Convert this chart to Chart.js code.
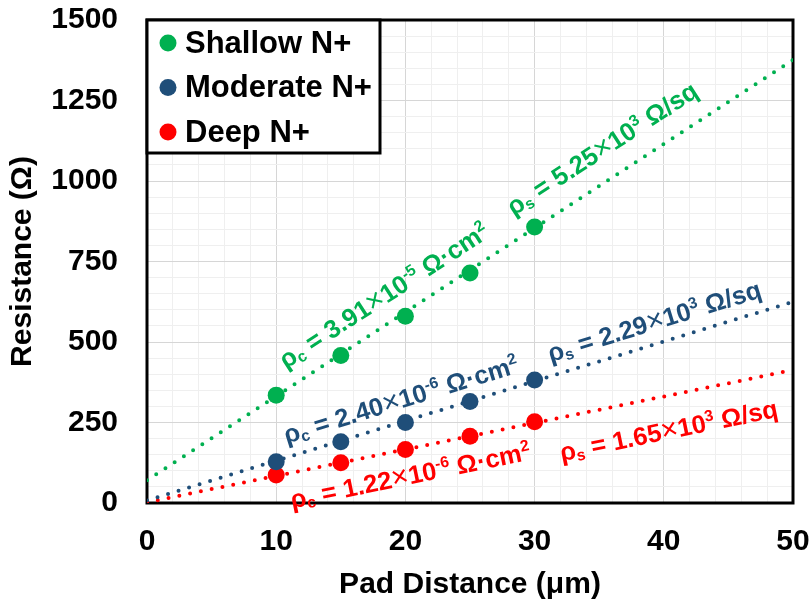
<!DOCTYPE html>
<html>
<head>
<meta charset="utf-8">
<script src="https://cdn.jsdelivr.net/npm/chart.js@4/dist/chart.umd.min.js"></script>
<style>
  html, body { margin: 0; padding: 0; background: #fff; }
</style>
</head>
<body>
<canvas id="chart" width="811" height="603"></canvas>
<script>
// valores medidos
const padDistance = [10, 15, 20, 25, 30];
const shallowR = [335, 458, 580, 714, 857];
const moderateR = [128, 190, 250, 315, 382];
const deepR = [87, 125, 166, 207, 252];

// rectas de ajuste (extremos)
const fitX = [0, 50];
const shallowFit = [71, 1376];
const moderateFit = [8, 625];
const deepFit = [2, 413];

const seriesNames = ["Shallow N+", "Moderate N+", "Deep N+"];
const seriesColors = ["#00b050", "#1f4e79", "#ff0000"];
const rhoC = ["3.91", "2.40", "1.22"];
const rhoCExp = ["-5", "-6", "-6"];
const rhoS = ["5.25", "2.29", "1.65"];

const xTickLabels = [0, 10, 20, 30, 40, 50];
const yTickLabels = [0, 250, 500, 750, 1000, 1250, 1500];

const FONT = '"Liberation Sans", Arial, sans-serif';
const fits = [shallowFit, moderateFit, deepFit];

// posiciones de las etiquetas (centro, en unidades de los ejes)
const labelAt = {
    c: [[18.4, 640], [19.7, 316], [20.4, 80]],
    s: [[35.3, 1096], [39.3, 559], [40.4, 220]]
};

function toPoints(xs, ys) {
    return xs.map((x, i) => ({ x: x, y: ys[i] }));
}

function drawRich(ctx, parts, size) {
    let w = 0;
    const items = parts.map(([t, kind]) => {
        const small = kind === "sub" || kind === "sup";
        let s = small ? size * 0.62 : size;
        if (kind === "x") s = size * 1.15;
        const weight = kind === "x" ? "normal" : "bold";
        const font = weight + " " + s + "px " + FONT;
        ctx.font = font;
        const tw = ctx.measureText(t).width;
        const it = { t: t, kind: kind, font: font, x: w };
        w += tw;
        return it;
    });
    items.forEach(it => {
        ctx.font = it.font;
        let dy = 0;
        if (it.kind === "sub") dy = size * 0.12;
        if (it.kind === "sup") dy = -size * 0.38;
        ctx.fillText(it.t, it.x - w / 2, size * 0.27 + dy);
    });
}

const framePlugin = {
    id: "frame",
    beforeDatasetsDraw(chart) {
        const { ctx, chartArea: a } = chart;
        ctx.save();
        ctx.lineWidth = 3;
        ctx.strokeStyle = "#000";
        ctx.strokeRect(a.left, a.top, a.right - a.left, a.bottom - a.top);
        ctx.restore();
    }
};

const labelsPlugin = {
    id: "fitLabels",
    afterDatasetsDraw(chart) {
        const ctx = chart.ctx;
        const sx = chart.scales.x, sy = chart.scales.y;
        fits.forEach((fit, i) => {
            const ang = Math.atan2(
                sy.getPixelForValue(fit[1]) - sy.getPixelForValue(fit[0]),
                sx.getPixelForValue(fitX[1]) - sx.getPixelForValue(fitX[0]));
            const texts = {
                c: [["ρ", ""], ["c", "sub"], [" = " + rhoC[i], ""], ["×", "x"], ["10", ""],
                    [rhoCExp[i], "sup"], [" Ω·cm", ""], ["2", "sup"]],
                s: [["ρ", ""], ["s", "sub"], [" = " + rhoS[i], ""], ["×", "x"], ["10", ""],
                    ["3", "sup"], [" Ω/sq", ""]]
            };
            ["c", "s"].forEach(k => {
                const p = labelAt[k][i];
                ctx.save();
                ctx.translate(sx.getPixelForValue(p[0]), sy.getPixelForValue(p[1]));
                ctx.rotate(ang);
                ctx.fillStyle = seriesColors[i];
                ctx.textAlign = "left";
                ctx.textBaseline = "alphabetic";
                drawRich(ctx, texts[k], 25.5);
                ctx.restore();
            });
        });

        // leyenda
        const a = chart.chartArea;
        ctx.save();
        ctx.fillStyle = "#fff";
        ctx.fillRect(a.left, a.top, 233, 133);
        ctx.lineWidth = 3;
        ctx.strokeStyle = "#000";
        ctx.strokeRect(a.left, a.top, 233, 133);
        ctx.font = "bold 31px " + FONT;
        ctx.textBaseline = "middle";
        ctx.textAlign = "left";
        seriesNames.forEach((name, i) => {
            const cy = a.top + 23 + i * 44.5;
            ctx.fillStyle = seriesColors[i];
            ctx.beginPath();
            ctx.arc(a.left + 21, cy, 8.5, 0, Math.PI * 2);
            ctx.fill();
            ctx.fillStyle = "#000";
            ctx.fillText(name, a.left + 38, cy + 1);
        });
        ctx.restore();
    }
};

const pointSets = [shallowR, moderateR, deepR].map((ys, i) => ({
    label: seriesNames[i],
    data: toPoints(padDistance, ys),
    backgroundColor: seriesColors[i],
    borderWidth: 0,
    pointRadius: 8.5,
    showLine: false
}));

const fitSets = fits.map((ys, i) => ({
    label: seriesNames[i] + " fit",
    data: toPoints(fitX, ys),
    borderColor: seriesColors[i],
    borderWidth: 4,
    borderDash: [0, 11],
    borderCapStyle: "round",
    pointRadius: 0,
    showLine: true,
    fill: false
}));

const tickFont = { family: FONT, size: 30, weight: "bold" };

new Chart(document.getElementById("chart"), {
    type: "scatter",
    data: { datasets: pointSets.concat(fitSets) },
    options: {
        responsive: false,
        animation: false,
        layout: { padding: { top: 20, right: 18, left: 0, bottom: 0 } },
        plugins: { legend: { display: false }, tooltip: { enabled: false } },
        scales: {
            x: {
                type: "linear",
                min: 0,
                max: 50,
                ticks: {
                    stepSize: 2,
                    autoSkip: false,
                    maxRotation: 0,
                    padding: 21,
                    color: "#000",
                    font: tickFont,
                    callback: v => xTickLabels.includes(v) ? v : ""
                },
                grid: {
                    drawTicks: false,
                    color: c => xTickLabels.includes(c.tick.value) ? "#d6d6d6" : "#efefef"
                },
                border: { display: false },
                title: {
                    display: true,
                    text: "Pad Distance (μm)",
                    color: "#000",
                    font: tickFont,
                    padding: { top: 0, bottom: 0 }
                },
                afterFit: s => {
                    s.height = 100;
                    s.paddingLeft = 0;
                    s.paddingRight = 0;
                }
            },
            y: {
                type: "linear",
                min: 0,
                max: 1500,
                ticks: {
                    stepSize: 50,
                    autoSkip: false,
                    padding: 29,
                    color: "#000",
                    font: tickFont,
                    callback: v => yTickLabels.includes(v) ? v : ""
                },
                grid: {
                    drawTicks: false,
                    color: c => yTickLabels.includes(c.tick.value) ? "#d6d6d6" : "#efefef"
                },
                border: { display: false },
                title: {
                    display: true,
                    text: "Resistance (Ω)",
                    color: "#000",
                    font: tickFont,
                    padding: { top: 5, bottom: 0 }
                },
                afterFit: s => {
                    s.width = 147;
                    s.paddingTop = 0;
                    s.paddingBottom = 0;
                }
            }
        }
    },
    plugins: [framePlugin, labelsPlugin]
});
</script>
</body>
</html>
